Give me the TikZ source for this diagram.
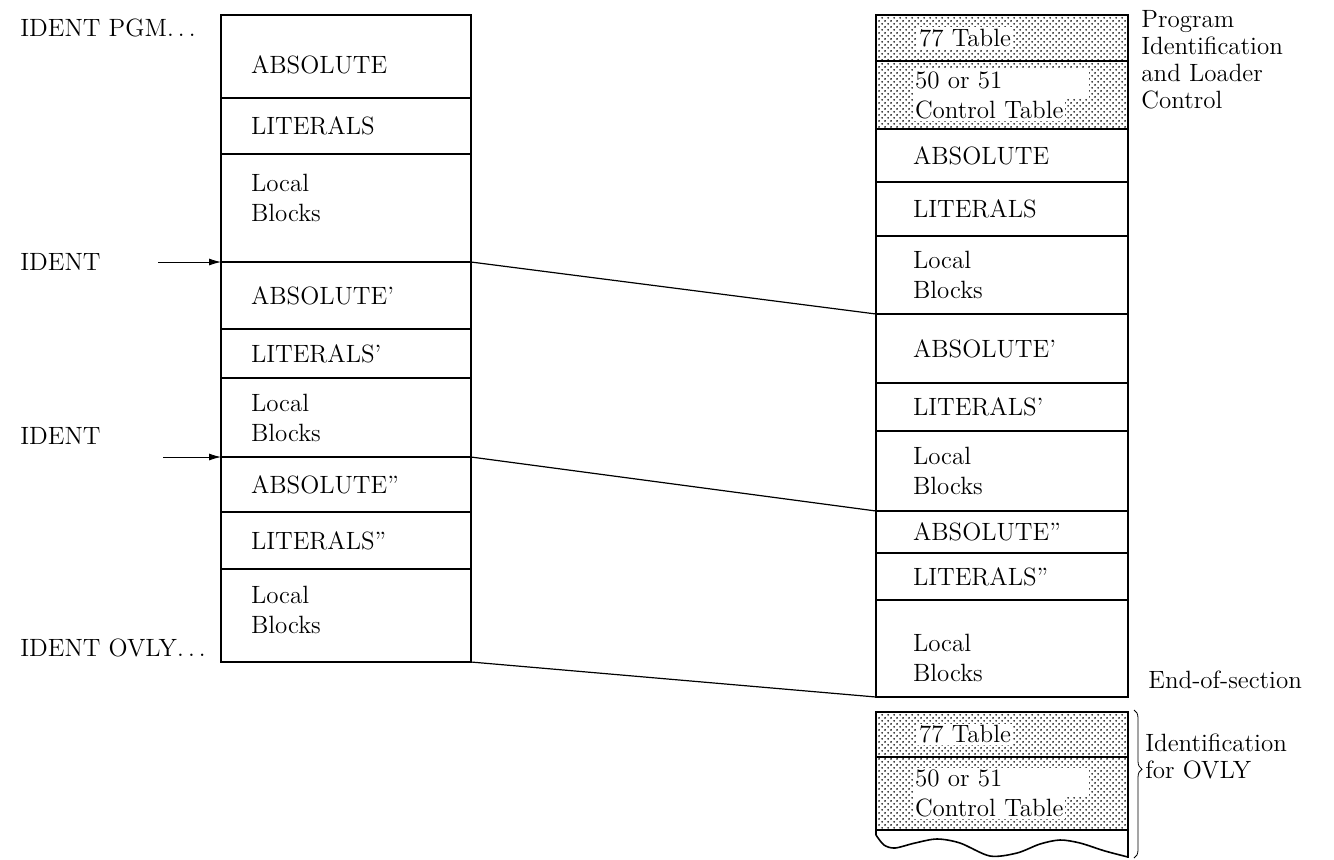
\documentclass[tikz,border=0pt]{standalone}
\usepackage{tikz}
\usetikzlibrary{positioning,arrows,arrows.meta,patterns,decorations.pathreplacing,backgrounds}
\newcommand{\lblfont}{\fontsize{12.5}{15}\selectfont}
\newcommand{\wbox}[1]{{\fboxsep=1pt\colorbox{white}{#1}}}
\newcommand{\nudge}[2]{\raisebox{#1}[\height][\depth]{#2}}
\pgfdeclarepatternformonly{stipple}{\pgfqpoint{-.6pt}{-.6pt}}{\pgfqpoint{2.6pt}{2.6pt}}{\pgfqpoint{3.2pt}{3.2pt}}{
  \pgfpathcircle{\pgfqpoint{0pt}{0pt}}{.5pt}
  \pgfpathcircle{\pgfqpoint{1.6pt}{1.6pt}}{.5pt}
  \pgfusepath{fill}}

\begin{document}
\begin{tikzpicture}[x=0.5pt,y=-0.5pt]
\tikzstyle{seg}=[rectangle, draw, line width=.8pt, anchor=north west, outer sep=0pt,
                 minimum width=125pt, text width=95pt, inner xsep=15pt, inner ysep=0pt,
                 align=left, font=\lblfont]
\tikzstyle{segr}=[seg, minimum width=126pt, text width=89pt, inner xsep=18.5pt]
\tikzstyle{shd}=[pattern=stipple, pattern color=black]
\tikzstyle{side}=[anchor=west, inner sep=0pt, align=left, font=\lblfont]
\tikzstyle{lnk}=[line width=.6pt]
\useasboundingbox (0,0) rectangle (1334,859);
% left: source deck
\node[seg, minimum height=41.5pt] (la) at (221,15) {\nudge{-4pt}{ABSOLUTE}};
\node[seg, minimum height=28pt, below=0pt of la] (ll) {LITERALS};
\node[seg, minimum height=54pt, below=0pt of ll] (lb) {\nudge{5pt}{Local}\\\nudge{5pt}{Blocks}};
\node[seg, minimum height=33.5pt, below=0pt of lb] (la1) {ABSOLUTE'};
\node[seg, minimum height=24.5pt, below=0pt of la1] (ll1) {LITERALS'};
\node[seg, minimum height=39.5pt, below=0pt of ll1] (lb1) {Local\\Blocks};
\node[seg, minimum height=27.5pt, below=0pt of lb1] (la2) {ABSOLUTE''};
\node[seg, minimum height=28.5pt, below=0pt of la2] (ll2) {LITERALS''};
\node[seg, minimum height=46.5pt, below=0pt of ll2] (lb2) {\nudge{3pt}{Local}\\\nudge{3pt}{Blocks}};
\node[side] (pgm) at (20,28) {IDENT PGM.\,.\,.};
\node[side] (id1) at (20,262) {IDENT};
\node[side] (id2) at (20,436) {IDENT};
\node[side] (ovl) at (20,648) {IDENT OVLY.\,.\,.};
\coordinate (a1) at (158,262);
\coordinate (a2) at (163,457);
\draw[-{Latex[length=6pt,width=3.5pt]}] (a1) -- (lb.south west);
\draw[-{Latex[length=6pt,width=3.5pt]}] (a2) -- (lb1.south west);
% right: binary deck
\node[segr, shd, minimum height=23pt] (r77) at (876,15) {\hspace{2pt}\wbox{77 Table}};
\node[segr, shd, minimum height=34pt, below=0pt of r77] (rct)
     {\wbox{\makebox[86pt][l]{\rule[-4pt]{0pt}{12pt}50 or 51}}\\\wbox{Control Table}};
\node[segr, minimum height=26.5pt, below=0pt of rct] (ra) {ABSOLUTE};
\node[segr, minimum height=27pt, below=0pt of ra] (rl) {LITERALS};
\node[segr, minimum height=39pt, below=0pt of rl] (rb) {Local\\Blocks};
\node[segr, minimum height=34.5pt, below=0pt of rb] (ra1) {ABSOLUTE'};
\node[segr, minimum height=24pt, below=0pt of ra1] (rl1) {LITERALS'};
\node[segr, minimum height=40pt, below=0pt of rl1] (rb1) {Local\\Blocks};
\node[segr, minimum height=21pt, below=0pt of rb1] (ra2) {ABSOLUTE''};
\node[segr, minimum height=23.5pt, below=0pt of ra2] (rl2) {LITERALS''};
\node[segr, minimum height=48.5pt, below=0pt of rl2] (rb2) {\nudge{-4.5pt}{Local}\\\nudge{-4.5pt}{Blocks}};
\node[segr, shd, minimum height=22.5pt] (b77) at (876,712) {\hspace{2pt}\wbox{77 Table}};
\node[segr, shd, minimum height=36.5pt, below=0pt of b77] (bct)
     {\wbox{\makebox[86pt][l]{\rule[-4pt]{0pt}{12pt}50 or 51}}\\\wbox{Control Table}};
\draw[line width=.8pt] (bct.south west) -- ++(0,5) plot[smooth] coordinates {(876,835) (884,845)
     (895,848) (915,843) (937,839) (960,843) (990,856) (1017,853) (1040,844) (1060,840)
     (1080,843) (1105,851) (1128,857)};
\draw[line width=.8pt] (bct.south east) -- ++(0,28);
\draw[decorate, decoration={brace, amplitude=4pt, aspect=0.4}] (1134,710) -- (1134,858);
\node[side, anchor=north west, font=\fontsize{12.5}{13.5}\selectfont] (ctl) at (1141,10)
     {Program\\Identification\\and Loader\\Control};
\node[side] (eos) at (1148,680) {End-of-section};
\node[side, anchor=north west, font=\fontsize{12.5}{13.5}\selectfont] (idv) at (1145,733)
     {Identification\\for OVLY};
\foreach \i/\j in {lb/rb, lb1/rb1, lb2/rb2}{\draw[lnk] (\i.south east) -- (\j.south west);}
\end{tikzpicture}
\end{document}
